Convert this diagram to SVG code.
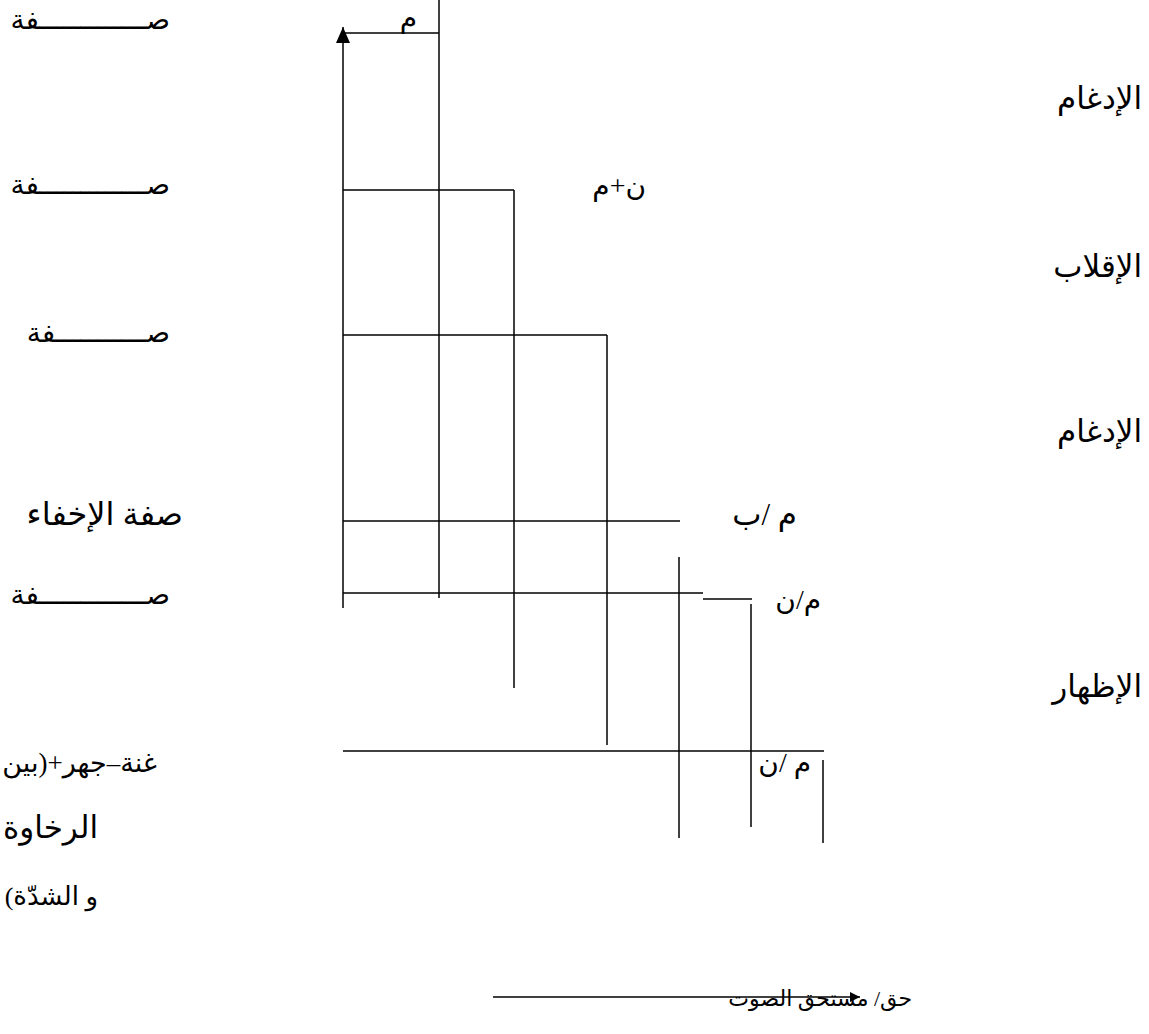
<svg xmlns="http://www.w3.org/2000/svg" width="1149" height="1034" viewBox="0 0 1149 1034">
<style>
text{font-family:"Liberation Serif","DejaVu Sans",serif;font-size:28px;fill:#000}
.r{direction:rtl;unicode-bidi:embed;text-anchor:start}
.big{font-size:31px}
line{stroke:#000;stroke-width:1.5}
</style>
<defs>
<marker id="ah" viewBox="0 0 10 10" refX="10" refY="5" markerWidth="10" markerHeight="10" markerUnits="userSpaceOnUse" orient="auto">
<path d="M0,0 L10,5 L0,10 z" fill="#000"/>
</marker>
<marker id="ah2" viewBox="0 0 16 14" refX="16" refY="7" markerWidth="16" markerHeight="14" markerUnits="userSpaceOnUse" orient="auto">
<path d="M0,0 L16,7 L0,14 z" fill="#000"/>
</marker>
</defs>
<g id="connectors">
<line x1="343" y1="608" x2="343" y2="27" marker-end="url(#ah2)"/>
<line x1="343" y1="33" x2="439" y2="33"/>
<line x1="439" y1="0" x2="439" y2="598"/>
<line x1="343" y1="190" x2="514" y2="190"/>
<line x1="514" y1="190" x2="514" y2="688"/>
<line x1="343" y1="335" x2="607" y2="335"/>
<line x1="607" y1="335" x2="607" y2="745"/>
<line x1="343" y1="521" x2="680" y2="521"/>
<line x1="343" y1="593" x2="703" y2="593"/>
<line x1="679" y1="557" x2="679" y2="838"/>
<line x1="703" y1="599" x2="752" y2="599"/>
<line x1="751" y1="604" x2="751" y2="827"/>
<line x1="343" y1="751" x2="824" y2="751"/>
<line x1="823" y1="760" x2="823" y2="843"/>
<line x1="493" y1="997" x2="860" y2="997" marker-end="url(#ah)"/>
</g>
<g id="right-labels">
<text id="t-idgham1" class="r big" x="1142" y="109">الإدغام</text>
<text id="t-iqlab" class="r big" x="1142" y="277">الإقلاب</text>
<text id="t-idgham2" class="r big" x="1142" y="442">الإدغام</text>
<text id="t-izhar" class="r big" x="1142" y="697">الإظهار</text>
</g>
<g id="left-labels">
<text id="t-sifa1" class="r" x="170" y="29">صـــــــــــــفة</text>
<text id="t-sifa2" class="r" x="170" y="194">صـــــــــــــفة</text>
<text id="t-sifa3" class="r" x="170" y="342">صـــــــــــفة</text>
<text id="t-ikhfa" class="r" x="183" y="525" style="font-size:32px">صفة الإخفاء</text>
<text id="t-sifa4" class="r" x="170" y="604">صـــــــــــــفة</text>
<text id="t-ghunna" class="r" x="157" y="772" style="font-size:27px">غنة–جهر+(بين</text>
<text id="t-rakhawa" class="r" x="98" y="838" style="font-size:31px">الرخاوة</text>
<text id="t-shidda" class="r" x="98" y="905" style="font-size:26px">و الشدّة)</text>
</g>
<g id="inner-labels">
<text id="t-m" class="r" x="417" y="27">م</text>
<text id="t-nm" class="r" x="646" y="195">ن+م</text>
<text id="t-mb" class="r" x="797" y="525" style="font-size:31px">م /ب</text>
<text id="t-mn1" class="r" x="821" y="609">م/ن</text>
<text id="t-mn2" class="r" x="811" y="772">م /ن</text>
<text id="t-haqq" class="r" x="912" y="1006" style="font-size:22px">حق/ مستحق الصوت</text>
</g>
</svg>
